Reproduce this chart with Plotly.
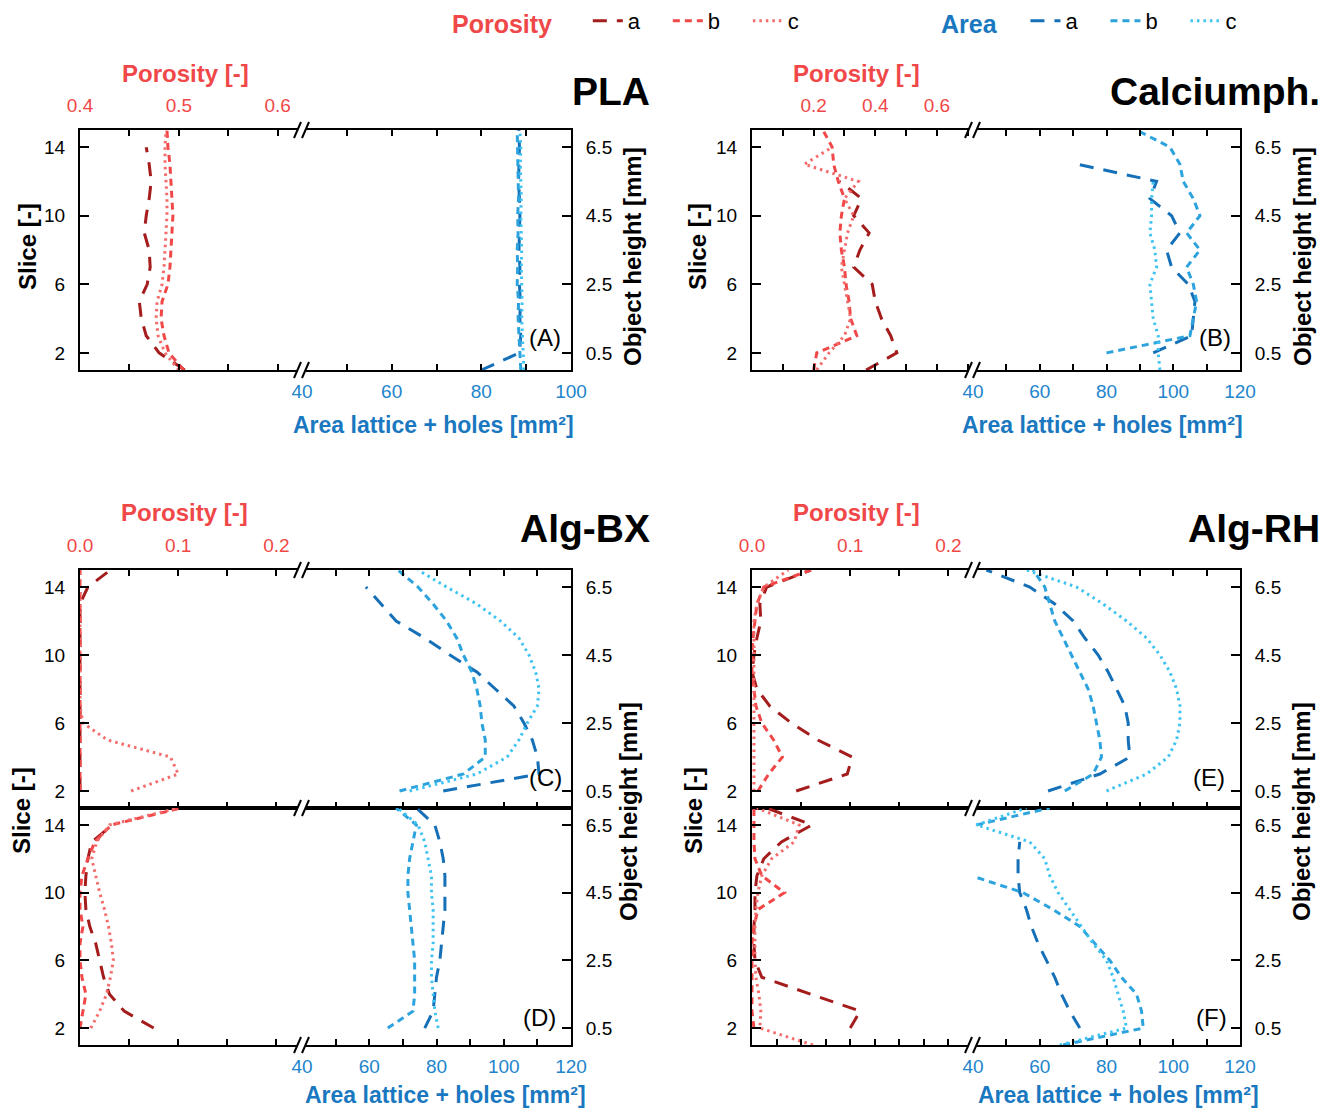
import plotly.graph_objects as go

# ---------------- data ----------------
slices = list(range(1, 16))

# PLA
pla_por_a = [0.506, 0.480, 0.467, 0.462, 0.460, 0.468, 0.471, 0.470, 0.465, 0.467, 0.470, 0.472, 0.470, 0.467, None]
pla_por_b = [0.505, 0.490, 0.485, 0.482, 0.483, 0.489, 0.491, 0.492, 0.493, 0.494, 0.493, 0.492, 0.491, 0.489, 0.488]
pla_por_c = [0.500, 0.486, 0.479, 0.477, 0.478, 0.483, 0.485, 0.486, 0.487, 0.488, 0.488, 0.487, 0.486, 0.486, 0.487]
pla_area_a = [80.0, 88.5, 88.8, 88.6, 88.7, 88.5, 88.6, 88.4, 88.5, 88.6, 88.5, 88.3, 88.4, 88.5, 88.4]
pla_area_b = [88.8, 88.6, 88.4, 88.2, 88.3, 88.0, 88.1, 88.0, 88.2, 88.1, 88.3, 88.2, 88.1, 88.0, 88.0]
pla_area_c = [89.5, 89.3, 89.2, 89.0, 89.1, 89.0, 88.9, 89.0, 88.9, 88.8, 88.9, 88.8, 88.7, 88.8, 88.6]

# Calciumph.
cap_por_a = [0.37, 0.47, 0.45, 0.42, 0.40, 0.39, 0.33, 0.35, 0.38, 0.33, 0.355, 0.285, None, None, None]
cap_por_b = [0.20, 0.21, 0.34, 0.32, 0.315, 0.305, 0.30, 0.29, 0.285, 0.29, 0.30, 0.28, 0.265, 0.26, 0.23]
cap_por_c = [0.21, 0.25, 0.30, 0.32, 0.31, 0.30, 0.29, 0.30, 0.31, 0.33, 0.30, 0.345, 0.17, 0.26, None]
cap_area_a = [None, 94, 105.5, 106, 106.5, 104.5, 99.5, 98, 102, 99.5, 93, 95, 71.5, None, None]
cap_area_b = [None, 80, 105, 106, 107, 106, 104, 108, 104, 108, 106, 103, 102, 99, 89]
cap_area_c = [96, 95.5, 95.5, 94, 93.5, 93, 95, 94.5, 93, 93.5, 93.5, 94, None, None, None]

# Alg-BX (top: C)
bxt_por_a = [None, 0, 0, 0, 0, 0, 0, 0, 0, 0, 0, 0, 0, 0.008, 0.031]
bxt_por_b = [None, 0, 0, 0, 0, 0, 0, 0, 0, 0, 0, 0, 0, 0, 0]
bxt_por_c = [None, 0.052, 0.1, 0.092, 0.028, 0.003, 0, 0, 0, 0, 0, 0, 0, 0, 0]
bxt_area_a = [None, 82, 110.5, 110, 108.5, 106, 103, 97.5, 92, 84, 76.5, 68, 63.5, 59, None]
bxt_area_b = [None, 69, 88, 94.5, 94.5, 93.5, 93, 92, 90.5, 88, 86, 83, 79, 74.5, 68.5]
bxt_area_c = [None, 72, 92, 101, 104.5, 107, 110, 110.5, 109.5, 107.5, 104.5, 99, 92, 83, 74.5]

# Alg-BX (bottom: D)
bxb_por_a = [None, 0.075, 0.045, 0.03, 0.024, 0.02, 0.016, 0.01, 0.006, 0.005, 0.006, 0.008, 0.012, 0.033, None]
bxb_por_b = [None, 0.0, 0.003, 0.006, 0.002, 0.0, 0.0, 0.003, 0.0, 0.0, 0.002, 0.008, 0.015, 0.032, 0.103]
bxb_por_c = [None, 0.011, 0.02, 0.027, 0.031, 0.034, 0.032, 0.029, 0.025, 0.02, 0.016, 0.012, 0.017, 0.03, 0.1]
bxb_area_a = [None, 76.5, 79, 79.5, 80, 81, 81.5, 82, 82.5, 82.5, 82.5, 82, 81, 79.5, 74]
bxb_area_b = [None, 65.5, 73, 73.5, 73.5, 73.5, 73, 72.5, 72, 71.5, 71.5, 72, 73, 74, 68]
bxb_area_c = [None, 80.5, 79.5, 79, 78.5, 78.5, 79, 79, 79, 78.5, 78.5, 77.5, 76.5, 74.5, 68.5]

# Alg-RH (top: E)
rht_por_a = [None, 0.045, 0.097, 0.102, 0.067, 0.04, 0.018, 0.005, 0.0, 0.002, 0.005, 0.009, 0.008, 0.015, 0.06]
rht_por_b = [None, 0.006, 0.017, 0.031, 0.022, 0.01, 0.004, 0.002, 0.0, 0.0, 0.001, 0.003, 0.005, 0.012, 0.06]
rht_por_c = [None, 0.002, 0.002, 0.002, 0.002, 0.002, 0.002, 0.002, 0.002, 0.002, 0.002, 0.002, 0.005, 0.012, 0.037]
rht_area_a = [None, 62.5, 78, 87, 86.5, 86.5, 85.5, 83, 80.5, 77.5, 73.5, 70, 64.5, 57, 44]
rht_area_b = [None, 67.5, 76, 78.5, 78, 77, 76, 74.5, 72, 69.5, 67, 64.5, 63, 61.5, 58]
rht_area_c = [None, 80, 92, 98.5, 101, 102, 102, 101, 99, 96, 92, 86, 79, 71, 56]

# Alg-RH (bottom: F)
rhb_por_a = [None, 0.10, 0.11, 0.06, 0.01, 0.003, 0.002, 0.002, 0.003, 0.003, 0.005, 0.012, 0.03, 0.061, 0.015]
rhb_por_b = [None, 0.002, 0.0, 0.0, 0.0, 0.0, 0.0, 0.002, 0.006, 0.033, 0.01, 0.003, 0.002, 0.002, 0.002]
rhb_por_c = [0.062, 0.008, 0.009, 0.007, 0.004, 0.003, 0.003, 0.003, 0.004, 0.006, 0.01, 0.02, 0.043, 0.048, 0.005]
rhb_area_a = [None, 72, 69, 66.5, 64.5, 62, 59.5, 57.5, 56, 54, 53.5, 53.5, 54, None, None]
rhb_area_b = [67, 91, 90.5, 89, 84.5, 81, 76.5, 72, 64, 55, 39.5, None, None, 41, 63]
rhb_area_c = [66, 86, 85, 83.5, 82, 80, 76, 72.5, 69, 65.5, 63, 61.5, 57, 41, 56]

slice_ticks = [2, 6, 10, 14]
height_ticks = [0.5, 2.5, 4.5, 6.5]
series_names = ["a", "b", "c"]

# ---------------- styles ----------------
W, H = 1323, 1109
FONT = "Liberation Sans, Arial, sans-serif"
POR_COLORS = ["#A51C1C", "#F04848", "#F36B6B"]
AREA_COLORS = ["#1570B8", "#2DA3DD", "#3EC3F2"]
DASHES = ["14px,10px", "7px,5px", "2.5px,4px"]
POR_TXT = "#F04848"
AREA_TXT = "#1A78C0"
AREA_TICK = "#2285CC"


def fx(x):
    return x / W


def fy(y):
    return 1 - y / H


panels = [
    dict(por=[pla_por_a, pla_por_b, pla_por_c], area=[pla_area_a, pla_area_b, pla_area_c],
         box=(80, 571, 130, 370), brk=302, por_range=[0.4, 0.6246], por_ticks=[0.4, 0.5, 0.6],
         por_minor=[0.45, 0.55], area_range=[40, 100], area_ticks=[40, 60, 80, 100],
         area_minor=[50, 70, 90], top=True, bottom=True),
    dict(por=[cap_por_a, cap_por_b, cap_por_c], area=[cap_area_a, cap_area_b, cap_area_c],
         box=(752, 1240, 130, 370), brk=973, por_range=[0, 0.717], por_ticks=[0.2, 0.4, 0.6],
         por_minor=[0.1, 0.3, 0.5, 0.7], area_range=[40, 120], area_ticks=[40, 60, 80, 100, 120],
         area_minor=[50, 70, 90, 110], top=True, bottom=True),
    dict(por=[bxt_por_a, bxt_por_b, bxt_por_c], area=[bxt_area_a, bxt_area_b, bxt_area_c],
         box=(80, 571, 570, 808), brk=302, por_range=[0, 0.226], por_ticks=[0, 0.1, 0.2],
         por_minor=[0.05, 0.15], area_range=[40, 120], area_ticks=[40, 60, 80, 100, 120],
         area_minor=[50, 70, 90, 110], top=True, bottom=False),
    dict(por=[bxb_por_a, bxb_por_b, bxb_por_c], area=[bxb_area_a, bxb_area_b, bxb_area_c],
         box=(80, 571, 808, 1045), brk=302, por_range=[0, 0.226], por_ticks=[0, 0.1, 0.2],
         por_minor=[0.05, 0.15], area_range=[40, 120], area_ticks=[40, 60, 80, 100, 120],
         area_minor=[50, 70, 90, 110], top=False, bottom=True),
    dict(por=[rht_por_a, rht_por_b, rht_por_c], area=[rht_area_a, rht_area_b, rht_area_c],
         box=(752, 1240, 570, 808), brk=973, por_range=[0, 0.225], por_ticks=[0, 0.1, 0.2],
         por_minor=[0.05, 0.15], area_range=[40, 120], area_ticks=[40, 60, 80, 100, 120],
         area_minor=[50, 70, 90, 110], top=True, bottom=False),
    dict(por=[rhb_por_a, rhb_por_b, rhb_por_c], area=[rhb_area_a, rhb_area_b, rhb_area_c],
         box=(752, 1240, 808, 1045), brk=973, por_range=[0, 0.225], por_ticks=[0, 0.1, 0.2],
         por_minor=[0.025, 0.05, 0.075, 0.125, 0.15, 0.175], area_range=[40, 120],
         area_ticks=[40, 60, 80, 100, 120], area_minor=[50, 70, 90, 110], top=False, bottom=True),
]

fig = go.Figure()
layout = {}


def akey(letter, n):
    return f"{letter}axis" if n == 1 else f"{letter}axis{n}"


def aid(letter, n):
    return letter if n == 1 else f"{letter}{n}"


TICKLEN_X = 6
TICKLEN_Y = 9

for i, p in enumerate(panels):
    nP, nA = 2 * i + 1, 2 * i + 2
    xP, xA, yS, yH = aid("x", nP), aid("x", nA), aid("y", nP), aid("y", nA)
    L, R, T, B = p["box"]
    bk = p["brk"]
    first = i == 0

    for k in range(3):
        fig.add_trace(go.Scatter(
            x=p["por"][k], y=slices, xaxis=xP, yaxis=yS, mode="lines",
            line=dict(color=POR_COLORS[k], width=3, dash=DASHES[k]),
            name=series_names[k], legend="legend", showlegend=first, connectgaps=False,
            hoverinfo="skip"))
    for k in range(3):
        fig.add_trace(go.Scatter(
            x=p["area"][k], y=slices, xaxis=xA, yaxis=yS, mode="lines",
            line=dict(color=AREA_COLORS[k], width=3, dash=DASHES[k]),
            name=series_names[k], legend="legend2", showlegend=first, connectgaps=False,
            hoverinfo="skip"))
    # anchor trace for the object-height axis
    fig.add_trace(go.Scatter(x=[None], y=[None], xaxis=xA, yaxis=yH, mode="lines",
                             showlegend=False, hoverinfo="skip"))

    common_x = dict(showgrid=False, zeroline=False, showline=True, linecolor="black",
                    linewidth=2, ticks="inside", ticklen=TICKLEN_X, tickwidth=1.8,
                    tickcolor="black", fixedrange=True, automargin=False)
    if p["top"]:
        por_axis = dict(side="top", mirror="ticks", showticklabels=True, ticklabelstandoff=8)
    else:
        por_axis = dict(side="bottom", mirror=True, showticklabels=False)
    layout[akey("x", nP)] = dict(
        common_x, domain=[fx(L), fx(bk)], anchor=yS, range=p["por_range"],
        tickmode="array", tickvals=p["por_ticks"], tickformat=".1f",
        tickfont=dict(size=19, color=POR_TXT, family=FONT),
        minor=dict(tickmode="array", tickvals=p["por_minor"], ticks="inside",
                   ticklen=TICKLEN_X, tickwidth=1.8, tickcolor="black"),
        **por_axis)
    if p["bottom"]:
        area_axis = dict(mirror=True if not p["top"] else "ticks", showticklabels=True,
                         ticklabelstandoff=3)
    else:
        area_axis = dict(mirror="ticks", showticklabels=False)
    layout[akey("x", nA)] = dict(
        common_x, domain=[fx(bk), fx(R)], anchor=yS, side="bottom", range=p["area_range"],
        tickmode="array", tickvals=p["area_ticks"],
        tickfont=dict(size=19, color=AREA_TICK, family=FONT),
        minor=dict(tickmode="array", tickvals=p["area_minor"], ticks="inside",
                   ticklen=TICKLEN_X, tickwidth=1.8, tickcolor="black"),
        **area_axis)
    common_y = dict(showgrid=False, zeroline=False, showline=True, linecolor="black",
                    linewidth=2, ticks="inside", ticklen=TICKLEN_Y, tickwidth=1.8,
                    tickcolor="black", fixedrange=True, automargin=False,
                    tickfont=dict(size=19, color="black", family=FONT))
    layout[akey("y", nP)] = dict(
        common_y, domain=[fy(B), fy(T)], anchor=xP, side="left", range=[1, 15],
        tickmode="array", tickvals=slice_ticks, ticklabelstandoff=9)
    layout[akey("y", nA)] = dict(
        common_y, overlaying=yS, anchor=xA, side="right", range=[0, 7],
        tickmode="array", tickvals=height_ticks, tickformat=".1f", ticklabelstandoff=9)

# ---------------- break marks ----------------
shapes = []
for bx, ys in [(302, [130, 370, 570, 808, 1045]), (973, [130, 370, 570, 808, 1045])]:
    for yy in ys:
        shapes.append(dict(type="rect", xref="paper", yref="paper",
                           x0=fx(bx - 4), x1=fx(bx + 4), y0=fy(yy + 3), y1=fy(yy - 3),
                           fillcolor="white", line=dict(width=0), layer="above"))
        for off in (-4, 4):
            shapes.append(dict(type="line", xref="paper", yref="paper",
                               x0=fx(bx + off - 4), y0=fy(yy + 8), x1=fx(bx + off + 3), y1=fy(yy - 8),
                               line=dict(color="black", width=2), layer="above"))

# ---------------- text ----------------
annotations = []


def ann(text, x, y, size, color="black", angle=0, xanchor="center"):
    annotations.append(dict(text=text, x=fx(x), y=fy(y), xref="paper", yref="paper",
                            showarrow=False, textangle=angle, xanchor=xanchor, yanchor="middle",
                            font=dict(size=size, color=color, family=FONT)))


for t, x, y in [("PLA", 652, 91), ("Calciumph.", 1322, 91), ("Alg-BX", 652, 528), ("Alg-RH", 1322, 528)]:
    ann(f"<b>{t}</b>", x, y, 39, xanchor="right")
for x, y in [(185, 73), (856, 73), (184, 512), (856, 512)]:
    ann("<b>Porosity [-]</b>", x, y, 24, POR_TXT)
for x, y in [(433, 425), (1102, 425), (446, 1095), (1118, 1095)]:
    ann("<b>Area lattice + holes [mm²]</b>", x, y, 23, AREA_TXT)
for x, y in [(28, 247), (698, 247), (21, 811), (693, 811)]:
    ann("<b>Slice [-]</b>", x, y, 24, angle=-90)
for x, y in [(632, 257), (1302, 257), (628, 812), (1301, 812)]:
    ann("<b>Object height [mm]</b>", x, y, 24, angle=-90)
for t, x, y in [("(A)", 545, 337), ("(B)", 1215, 337), ("(C)", 545, 777),
                ("(D)", 539, 1017), ("(E)", 1209, 777), ("(F)", 1211, 1017)]:
    ann(t, x, y, 24)

legend_common = dict(orientation="h", xanchor="left", yanchor="top", y=fy(0),
                     font=dict(size=22, color="black", family=FONT),
                     bgcolor="rgba(0,0,0,0)", itemwidth=30, entrywidth=35,
                     entrywidthmode="pixels", tracegroupgap=0, itemclick=False,
                     itemdoubleclick=False)
layout["legend"] = dict(legend_common, x=fx(450),
                        title=dict(text="<b>Porosity</b>&nbsp;&nbsp;&nbsp;&nbsp;", side="left",
                                   font=dict(size=25, color=POR_TXT, family=FONT)))
layout["legend2"] = dict(legend_common, x=fx(939),
                         title=dict(text="<b>Area</b>&nbsp;&nbsp;&nbsp;", side="left",
                                    font=dict(size=25, color=AREA_TXT, family=FONT)))

fig.update_layout(
    width=W, height=H, autosize=False,
    margin=dict(l=0, r=0, t=0, b=0, pad=0, autoexpand=False),
    paper_bgcolor="white", plot_bgcolor="white",
    font=dict(family=FONT, color="black"),
    shapes=shapes, annotations=annotations,
    **layout,
)

fig.write_html("out.html", config={"displayModeBar": False},
               post_script="document.body.style.margin='0px';")
